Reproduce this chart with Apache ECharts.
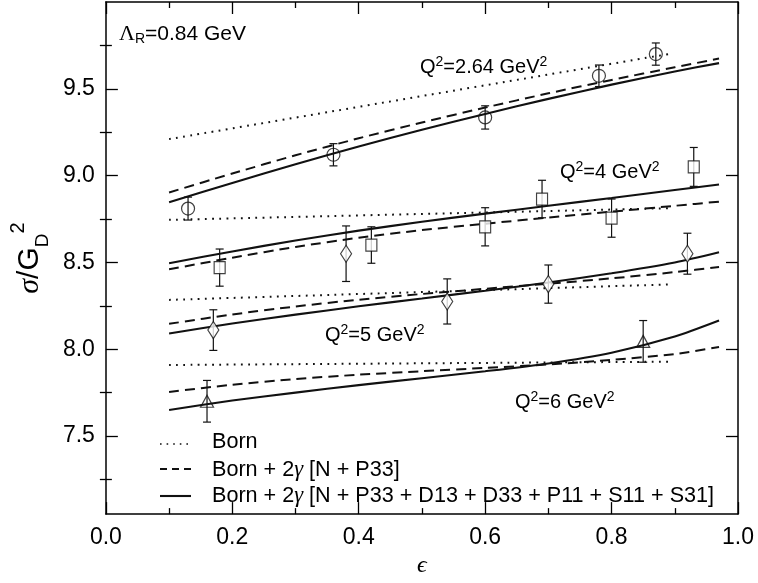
<!DOCTYPE html>
<html>
<head>
<meta charset="utf-8">
<script src="https://cdn.jsdelivr.net/npm/echarts@6/dist/echarts.min.js"></script>
<style>
  html, body { margin: 0; padding: 0; background: #fff; }
  #chart { width: 758px; height: 583px; }
</style>
</head>
<body>
<div id="chart"></div>
<script>
// Axis ticks
const xTicks = [0, 0.2, 0.4, 0.6, 0.8, 1.0];
const yMajorTicks = [7.5, 8.0, 8.5, 9.0, 9.5];
const yMinorTicks = [7.25, 7.75, 8.25, 8.75, 9.25, 9.75];

// epsilon grid of the model curves
const curveEps = [0.1, 0.2, 0.3, 0.4, 0.5, 0.6, 0.7, 0.8, 0.9, 0.97];
// Born cross sections are straight lines in epsilon: end points only
const bornEps = [0.1, 0.89];

// Q^2 = 2.64 GeV^2
const born264 = [9.21, 9.70];
const np33_264 = [8.903, 9.012, 9.117, 9.215, 9.306, 9.392, 9.474, 9.551, 9.624, 9.674];
const full264 = [8.847, 8.958, 9.066, 9.168, 9.264, 9.355, 9.442, 9.524, 9.600, 9.648];
const eps264 = [0.13, 0.36, 0.60, 0.78, 0.87];
const sig264 = [8.81, 9.12, 9.335, 9.575, 9.70];
const err264 = [0.066, 0.064, 0.067, 0.062, 0.064];

// Q^2 = 4 GeV^2
const born4 = [8.745, 8.812];
const np33_4 = [8.46, 8.527, 8.589, 8.642, 8.686, 8.723, 8.758, 8.792, 8.826, 8.85];
const full4 = [8.495, 8.563, 8.626, 8.683, 8.734, 8.781, 8.826, 8.871, 8.917, 8.949];
const eps4 = [0.18, 0.42, 0.60, 0.69, 0.80, 0.93];
const sig4 = [8.47, 8.60, 8.705, 8.865, 8.755, 9.05];
const err4 = [0.107, 0.105, 0.11, 0.108, 0.11, 0.112];

// Q^2 = 5 GeV^2
const born5 = [8.284, 8.373];
const np33_5 = [8.146, 8.200, 8.246, 8.285, 8.318, 8.348, 8.377, 8.408, 8.444, 8.474];
const full5 = [8.09, 8.148, 8.199, 8.247, 8.292, 8.337, 8.384, 8.437, 8.499, 8.558];
const eps5 = [0.17, 0.38, 0.54, 0.70, 0.92];
const sig5 = [8.11, 8.55, 8.275, 8.375, 8.55];
const err5 = [0.117, 0.16, 0.13, 0.11, 0.118];

// Q^2 = 6 GeV^2
const born6 = [7.909, 7.928];
const np33_6 = [7.754, 7.795, 7.828, 7.853, 7.873, 7.892, 7.912, 7.938, 7.972, 8.013];
const full6 = [7.65, 7.704, 7.750, 7.793, 7.833, 7.873, 7.918, 7.980, 8.073, 8.165];
const eps6 = [0.16, 0.85];
const sig6 = [7.70, 8.045];
const err6 = [0.12, 0.12];

const SANS = '"Liberation Sans", Arial, Helvetica, sans-serif';
const SERIF = '"Liberation Serif", "DejaVu Serif", serif';
const INK = '#111';

const pairs = (xs, ys) => xs.map((x, i) => [x, ys[i]]);

function curve(name, xs, ys, kind) {
  const styles = {
    born: { width: 2, type: [1.8, 5.4], cap: 'butt' },
    np33: { width: 2, type: [10, 6] },
    full: { width: 2.1, type: 'solid' }
  };
  return {
    name, type: 'line', data: pairs(xs, ys),
    showSymbol: false, symbol: 'none', smooth: 0.25,
    lineStyle: Object.assign({ color: INK }, styles[kind]),
    z: 2, silent: true
  };
}

function points(xs, ys, symbol, size, fill) {
  return {
    type: 'scatter', data: pairs(xs, ys), symbol, symbolSize: size,
    itemStyle: { color: fill, borderColor: INK, borderWidth: 1.2 },
    z: 5, silent: true
  };
}

function errorBars(xs, ys, es) {
  return {
    type: 'custom',
    data: xs.map((x, i) => [x, ys[i] - es[i], ys[i] + es[i]]),
    encode: { x: 0, y: [1, 2] },
    z: 4, silent: true,
    renderItem(params, api) {
      const x = api.value(0);
      const lo = api.coord([x, api.value(1)]);
      const hi = api.coord([x, api.value(2)]);
      const w = 4;
      const st = { stroke: INK, lineWidth: 1.2 };
      return {
        type: 'group',
        children: [
          { type: 'line', shape: { x1: lo[0], y1: lo[1], x2: hi[0], y2: hi[1] }, style: st },
          { type: 'line', shape: { x1: lo[0] - w, y1: lo[1], x2: lo[0] + w, y2: lo[1] }, style: st },
          { type: 'line', shape: { x1: hi[0] - w, y1: hi[1], x2: hi[0] + w, y2: hi[1] }, style: st }
        ]
      };
    }
  };
}

const series = [
  curve('Born', bornEps, born264, 'born'),
  curve('N+P33', curveEps, np33_264, 'np33'),
  curve('full', curveEps, full264, 'full'),
  curve('Born', bornEps, born4, 'born'),
  curve('N+P33', curveEps, np33_4, 'np33'),
  curve('full', curveEps, full4, 'full'),
  curve('Born', bornEps, born5, 'born'),
  curve('N+P33', curveEps, np33_5, 'np33'),
  curve('full', curveEps, full5, 'full'),
  curve('Born', bornEps, born6, 'born'),
  curve('N+P33', curveEps, np33_6, 'np33'),
  curve('full', curveEps, full6, 'full'),
  errorBars(eps264, sig264, err264),
  errorBars(eps4, sig4, err4),
  errorBars(eps5, sig5, err5),
  errorBars(eps6, sig6, err6),
  points(eps264, sig264, 'circle', 13, 'rgba(0,0,0,0)'),
  points(eps4, sig4, 'rect', [11, 12], '#fff'),
  points(eps5, sig5, 'diamond', [11, 17], '#fff'),
  points(eps6, sig6, 'triangle', [13, 12], 'rgba(0,0,0,0)')
];

const axisLine = { show: true, onZero: false, lineStyle: { color: '#000', width: 1.5 } };
const tickLine = { color: '#000', width: 1.3 };

function yAxisDef(position, ticks, len, withLabels) {
  const ax = {
    type: 'value', min: 7.05, max: 10, position,
    axisLine: withLabels !== null ? axisLine : { show: false },
    axisTick: { show: true, inside: true, length: len, customValues: ticks, lineStyle: tickLine },
    axisLabel: { show: false },
    splitLine: { show: false }
  };
  if (withLabels) {
    ax.axisLabel = {
      show: true, customValues: ticks, formatter: v => v.toFixed(1),
      fontSize: 23, fontFamily: SANS, color: '#000', margin: 11
    };
    ax.name = '{s|σ}{b|/G}{d|D}{p|2}';
    ax.nameLocation = 'middle';
    ax.nameRotate = 90;
    ax.nameGap = 50;
    ax.nameTextStyle = {
      color: '#000',
      rich: {
        s: { fontSize: 30, fontFamily: SERIF, fontStyle: 'italic', color: '#000', lineHeight: 44 },
        b: { fontSize: 30, fontFamily: SANS, color: '#000', lineHeight: 44 },
        d: { fontSize: 19, fontFamily: SANS, color: '#000', lineHeight: 22, verticalAlign: 'bottom' },
        p: { fontSize: 20, fontFamily: SANS, color: '#000', lineHeight: 16, verticalAlign: 'top' }
      }
    };
  }
  return ax;
}

function xAxisDef(position, withLabels) {
  const ax = {
    type: 'value', min: 0, max: 1, interval: 0.2, position,
    axisLine,
    axisTick: { show: true, inside: true, length: 12, lineStyle: tickLine },
    minorTick: { show: true, splitNumber: 2, length: 6, lineStyle: tickLine },
    axisLabel: { show: false },
    splitLine: { show: false }, minorSplitLine: { show: false }
  };
  if (withLabels) {
    ax.axisLabel = {
      show: true, formatter: v => v.toFixed(1),
      fontSize: 23, fontFamily: SANS, color: '#000', margin: 12
    };
    ax.name = 'ϵ';
    ax.nameLocation = 'middle';
    ax.nameGap = 38;
    ax.nameTextStyle = { fontSize: 24, fontFamily: SERIF, fontStyle: 'italic', color: '#000' };
  }
  return ax;
}

// text with raised/lowered small pieces
function label(x, y, text, rich) {
  return {
    type: 'text', x, y, silent: true,
    style: { text, rich, align: 'left', verticalAlign: 'middle', fill: '#000' }
  };
}
const qRich = {
  b: { fontSize: 20, fontFamily: SANS, color: '#000', lineHeight: 24 },
  p: { fontSize: 14, fontFamily: SANS, color: '#000', lineHeight: 10, verticalAlign: 'top' }
};
const lamRich = {
  L: { fontSize: 22, fontFamily: SERIF, color: '#000', lineHeight: 24 },
  r: { fontSize: 14, fontFamily: SANS, color: '#000', lineHeight: 8, verticalAlign: 'bottom' },
  b: { fontSize: 21, fontFamily: SANS, color: '#000', lineHeight: 24 }
};
const legRich = {
  t: { fontSize: 21.6, fontFamily: SANS, color: '#000', lineHeight: 26 },
  g: { fontSize: 22.5, fontFamily: SERIF, fontStyle: 'italic', color: '#000', lineHeight: 26 }
};

function legendLine(y, dash, width) {
  return {
    type: 'line', silent: true,
    shape: { x1: 160, y1: y, x2: 191, y2: y },
    style: { stroke: INK, lineWidth: width, lineDash: dash }
  };
}

const graphic = [
  label(119, 34, '{L|Λ}{r|R}{b|=0.84 GeV}', lamRich),
  label(420, 67, '{b|Q}{p|2}{b|=2.64 GeV}{p|2}', qRich),
  label(560, 172, '{b|Q}{p|2}{b|=4 GeV}{p|2}', qRich),
  label(325, 335, '{b|Q}{p|2}{b|=5 GeV}{p|2}', qRich),
  label(515, 402, '{b|Q}{p|2}{b|=6 GeV}{p|2}', qRich),
  legendLine(444, [1.6, 5], 1.6),
  legendLine(469, [7, 5], 2),
  legendLine(496, null, 2.1),
  label(212, 442, '{t|Born}', legRich),
  label(212, 470, '{t|Born + 2}{g|γ}{t| [N + P33]}', legRich),
  label(212, 496, '{t|Born + 2}{g|γ}{t| [N + P33 + D13 + D33 + P11 + S11 + S31]}', legRich)
];

const chart = echarts.init(document.getElementById('chart'), null, { renderer: 'canvas' });
chart.setOption({
  animation: false,
  backgroundColor: '#fff',
  grid: { left: 104, right: 20, top: 2, bottom: 62, containLabel: false },
  xAxis: [xAxisDef('bottom', true), xAxisDef('top', false)],
  yAxis: [
    yAxisDef('left', yMajorTicks, 12, true),
    yAxisDef('left', yMinorTicks, 6, null),
    yAxisDef('right', yMajorTicks, 12, false),
    yAxisDef('right', yMinorTicks, 6, null)
  ],
  series,
  graphic
});
</script>
</body>
</html>
